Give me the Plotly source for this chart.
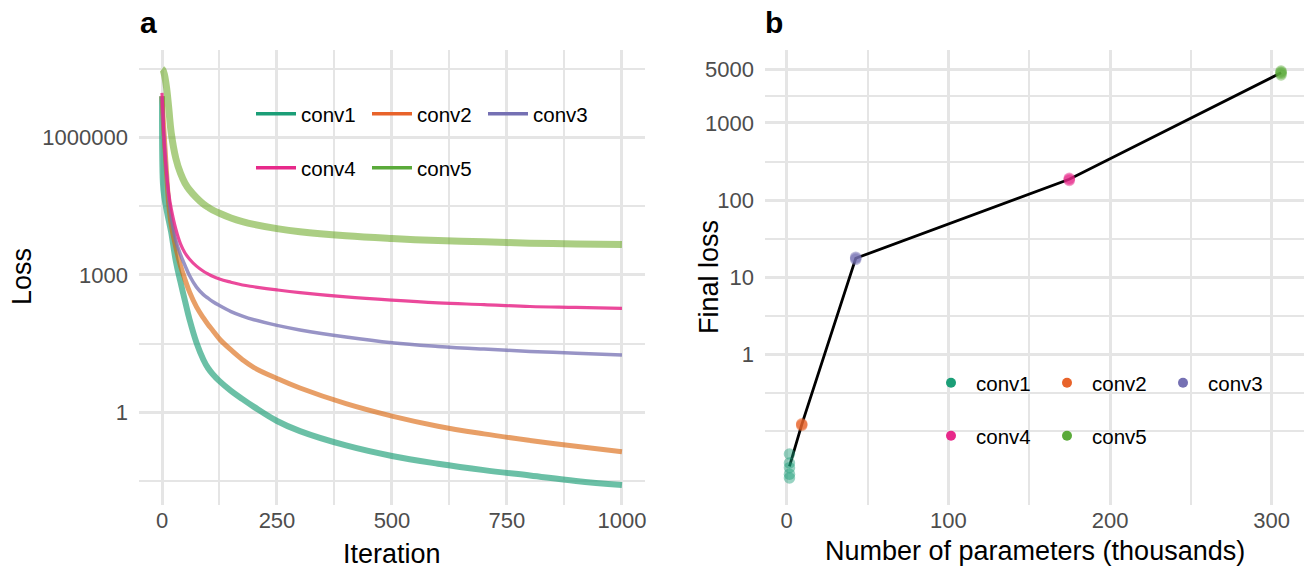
import numpy as np
import plotly.graph_objects as go

# ---------------- data ----------------
convs = ["conv1", "conv2", "conv3", "conv4", "conv5"]
colors = ["#1B9E77", "#E8632A", "#7570B3", "#E7298A", "#5AAA3A"]
band_colors = ["rgba(27,158,119,0.65)", "rgba(217,95,2,0.6)", "rgba(117,112,179,0.75)",
               "rgba(231,41,138,0.85)", "rgba(102,166,30,0.55)"]
band_widths = [6, 5, 3.5, 3.2, 7]

iterations = [0, 2, 5, 10, 15, 20, 30, 40, 50, 60, 75, 90, 100, 110, 125, 150, 175, 200,
              250, 300, 400, 500, 600, 700, 800, 900, 1000]

loss_conv1 = [7.9e6, 1.0e5, 5.0e4, 2.6e4, 1.48e4, 8.5e3, 2.0e3, 710, 270, 105, 33, 14.1,
              9.3, 6.9, 4.8, 2.95, 1.95, 1.32, 0.65, 0.39, 0.19, 0.112, 0.076, 0.055,
              0.042, 0.032, 0.026]
loss_conv2 = [7.9e6, 3.2e6, 1.0e6, 1.6e5, 3.2e4, 1.26e4, 4.0e3, 1.6e3, 790, 420, 200, 115,
              83, 62, 40, 23, 14.1, 9.5, 5.5, 3.4, 1.55, 0.83, 0.50, 0.34, 0.245, 0.182, 0.138]
loss_conv3 = [7.6e6, 2.5e6, 7.9e5, 1.6e5, 4.5e4, 1.8e4, 5.6e3, 2.8e3, 1.6e3, 955, 540, 370,
              310, 263, 214, 158, 126, 105, 79, 63, 44, 33, 27.5, 24.0, 21.4, 19.5, 17.8]
loss_conv4 = [9.3e6, 3.2e6, 7.1e5, 1.6e5, 5.6e4, 2.8e4, 1.0e4, 4.8e3, 3.0e3, 2.2e3, 1.55e3,
              1.2e3, 1.05e3, 930, 810, 690, 600, 550, 470, 410, 330, 280, 245, 224, 204,
              195, 186]
loss_conv5 = [3.1e7, 2.95e7, 2.4e7, 1.2e7, 4.0e6, 1.26e6, 3.5e5, 1.66e5, 1.0e5, 7.1e4, 4.8e4,
              3.5e4, 3.0e4, 2.6e4, 2.2e4, 1.74e4, 1.45e4, 1.26e4, 1.02e4, 8.7e3, 7.1e3, 6.2e3,
              5.6e3, 5.25e3, 4.9e3, 4.73e3, 4.57e3]
losses = [loss_conv1, loss_conv2, loss_conv3, loss_conv4, loss_conv5]

# parameters (thousands) and final losses of each replicate
params_k = [1.7, 9.3, 42.7, 174.8, 305.8]
final_conv1 = [0.051, 0.039, 0.034, 0.028, 0.025]
final_conv2 = [0.12, 0.123, 0.126]
final_conv3 = [17.0, 17.6, 18.2]
final_conv4 = [180, 186, 192]
final_conv5 = [4200, 4400, 4550, 4720]
finals = [final_conv1, final_conv2, final_conv3, final_conv4, final_conv5]

left_yticks = [1, 1000, 1000000]
left_yticktext = ["1", "1000", "1000000"]
left_xticks = [0, 250, 500, 750, 1000]
right_yticks = [1, 10, 100, 1000, 5000]
right_xticks = [0, 100, 200, 300]

# ---------------- figure ----------------
FONT = "Liberation Sans, Arial, Helvetica, sans-serif"
GRID = "#E5E5E5"
fig = go.Figure()

for i, c in enumerate(convs):
    fig.add_trace(go.Scatter(x=iterations, y=losses[i], mode="lines",
                             line=dict(color=band_colors[i], width=band_widths[i], shape="spline", smoothing=1.1),
                             showlegend=False, xaxis="x", yaxis="y", hoverinfo="skip"))

means = [float(np.mean(f)) for f in finals]
fig.add_trace(go.Scatter(x=params_k, y=means, mode="lines", line=dict(color="black", width=2.8),
                         showlegend=False, xaxis="x2", yaxis="y2"))
for i, c in enumerate(convs):
    fig.add_trace(go.Scatter(x=[params_k[i]] * len(finals[i]), y=finals[i], mode="markers",
                             marker=dict(color=colors[i], size=11.5, opacity=0.45, line=dict(width=0)),
                             showlegend=False, xaxis="x2", yaxis="y2"))

# legend entries
for i, c in enumerate(convs):
    lg = "legend" if i < 3 else "legend2"
    fig.add_trace(go.Scatter(x=[None], y=[None], mode="lines", name=c,
                             line=dict(color=colors[i], width=3.5), legend=lg,
                             xaxis="x", yaxis="y"))
for i, c in enumerate(convs):
    lg = "legend3" if i < 3 else "legend4"
    fig.add_trace(go.Scatter(x=[None], y=[None], mode="markers", name=c,
                             marker=dict(color=colors[i], size=10), legend=lg,
                             xaxis="x2", yaxis="y2"))

tickfont = dict(family=FONT, size=22, color="#4D4D4D")
common = dict(showline=False, zeroline=False, ticks="", gridcolor=GRID, gridwidth=2.6,
              tickfont=tickfont, fixedrange=True, automargin=False)

fig.update_layout(
    width=1304, height=569,
    margin=dict(l=0, r=0, t=50, b=64, autoexpand=False),
    paper_bgcolor="white", plot_bgcolor="white",
    font=dict(family=FONT),
    xaxis=dict(domain=[0.1066, 0.4946], range=[-50, 1050], tickmode="array",
               tickvals=left_xticks, ticktext=[str(v) for v in left_xticks],
               minor=dict(tickmode="array", tickvals=[125, 375, 625, 875], showgrid=True,
                          gridcolor=GRID, gridwidth=1.5), anchor="y", **common),
    yaxis=dict(type="log", range=[-2.02, 7.905], tickmode="array",
               tickvals=left_yticks, ticktext=left_yticktext,
               minor=dict(tickmode="array", tickvals=[10 ** -1.5, 10 ** 1.5, 10 ** 4.5, 10 ** 7.5],
                          showgrid=True, gridcolor=GRID, gridwidth=1.5),
               anchor="x", ticklabelstandoff=10, **common),
    xaxis2=dict(domain=[0.5867, 1.0], range=[-13.4, 320.0], tickmode="array",
                tickvals=right_xticks, ticktext=[str(v) for v in right_xticks],
                minor=dict(tickmode="array", tickvals=[50, 150, 250], showgrid=True,
                           gridcolor=GRID, gridwidth=1.5), anchor="y2", **common),
    yaxis2=dict(type="log", range=[-1.953, 3.946], tickmode="array",
                tickvals=right_yticks, ticktext=[str(v) for v in right_yticks],
                minor=dict(tickmode="array",
                           tickvals=[10 ** -1, 10 ** -0.5, 10 ** 0.5, 10 ** 1.5, 10 ** 2.5, 10 ** 3.35],
                           showgrid=True, gridcolor=GRID, gridwidth=1.5),
                anchor="x2", ticklabelstandoff=10, **common),
)

legfont = dict(family=FONT, size=20.5, color="black")
def leg(x, y):
    return dict(orientation="h", x=x, y=y, xanchor="left", yanchor="middle",
                xref="paper", yref="paper", bgcolor="rgba(0,0,0,0)", font=legfont,
                entrywidth=61, entrywidthmode="pixels", itemwidth=40, traceorder="normal")

fig.update_layout(
    legend=leg(251 / 1304, (505 - 114) / 455),
    legend2=leg(251 / 1304, (505 - 168) / 455),
    legend3=leg(926 / 1304, (505 - 383) / 455),
    legend4=leg(926 / 1304, (505 - 436) / 455),
)

def ann(text, x, y, size, bold=False, angle=0):
    fig.add_annotation(text=f"<b>{text}</b>" if bold else text, x=x / 1304, y=(505 - y) / 455,
                       xref="paper", yref="paper", showarrow=False, textangle=angle,
                       font=dict(family=FONT, size=size, color="black"),
                       xanchor="center", yanchor="middle")

ann("a", 148, 22, 30, bold=True)
ann("b", 774, 22, 30, bold=True)
ann("Iteration", 392, 554, 27)
ann("Number of parameters (thousands)", 1035, 551, 27)
ann("Loss", 22, 277, 27, angle=-90)
ann("Final loss", 709, 277, 27, angle=-90)

fig.write_html("out.html", config={"displayModeBar": False},
               post_script="document.body.style.margin='0';document.body.style.overflow='hidden';")
